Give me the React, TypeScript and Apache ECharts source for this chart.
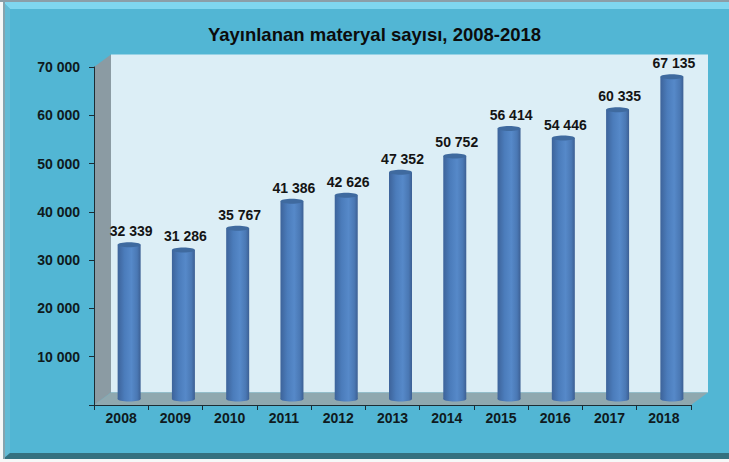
import React, { useEffect, useRef } from "react";
import * as echarts from "echarts";

const years = ["2008","2009","2010","2011","2012","2013","2014","2015","2016","2017","2018"];
const values = [32339,31286,35767,41386,42626,47352,50752,56414,54446,60335,67135];
const valueLabels = ["32 339","31 286","35 767","41 386","42 626","47 352","50 752","56 414","54 446","60 335","67 135"];
const FONT = "'Liberation Sans', Arial, sans-serif";

export default function App() {
  const ref = useRef<HTMLDivElement>(null);
  useEffect(() => {
    document.body.style.margin = "0";
    const chart = echarts.init(ref.current!, null, { renderer: "svg" });
    const G = { l: 94, r: 691, t: 67, b: 405 };
    const D = { x: 17, y: 12.5 };
    const poly = (points: number[][], fill: string, z = 0) => ({ type: "polygon", z, silent: true, shape: { points }, style: { fill } });
    const rect = (x: number, y: number, width: number, height: number, fill: string, z = 0) => ({ type: "rect", z, silent: true, shape: { x, y, width, height }, style: { fill } });
    const option: any = {
      animation: false,
      backgroundColor: "#f6f8f8",
      title: {
        text: "Yayınlanan materyal sayısı, 2008-2018",
        left: 369.5, top: 20, textAlign: "center",
        textStyle: { fontFamily: FONT, fontSize: 18.5, fontWeight: "bold", color: "#0c0c0c" },
      },
      graphic: [
        rect(3, 0, 726, 459, "#52b6d4", -10),
        rect(0, 0, 729, 2, "#8b9ea8", -9),
        poly([[3,2],[729,2],[729,9],[10,9]], "#7fd6ef", -9),
        poly([[3,2],[10,9],[10,453],[3,459]], "#63bbd5", -9),
        rect(3, 2, 2, 457, "#86a4ae", -8),
        poly([[3,459],[10,453],[729,453],[729,459]], "#34707f", -9),
        rect(G.l + D.x, G.t - D.y, G.r - G.l, G.b - G.t, "#dceef6", -5),
        poly([[G.l,G.t],[G.l+D.x,G.t-D.y],[G.l+D.x,G.b-D.y],[G.l,G.b]], "#8b9ba3", -4),
        poly([[G.l,G.b],[G.l+D.x,G.b-D.y],[G.r+D.x,G.b-D.y],[G.r,G.b]], "#8fa8af", -4),
      ],
      grid: { left: G.l, right: 729 - G.r, top: G.t, bottom: 462 - G.b, containLabel: false },
      xAxis: {
        type: "category", data: years, boundaryGap: true,
        axisLine: { lineStyle: { color: "#1c2c34", width: 1 } },
        axisTick: { show: true, alignWithLabel: false, length: 5, lineStyle: { color: "#1c2c34" } },
        axisLabel: { fontFamily: FONT, fontSize: 14, fontWeight: "bold", color: "#0f1a20", margin: 6 },
      },
      yAxis: {
        type: "value", min: 0, max: 70000, interval: 10000,
        splitLine: { show: false },
        axisLine: { show: true, lineStyle: { color: "#1c2c34", width: 1 } },
        axisTick: { show: true, length: 5, lineStyle: { color: "#1c2c34" } },
        axisLabel: {
          fontFamily: FONT, fontSize: 14, fontWeight: "bold", color: "#0f1a20", margin: 14,
          formatter: (v: number) => (v === 0 ? "" : `${Math.floor(v / 1000)} 000`),
        },
      },
      series: [{
        type: "custom",
        clip: false,
        data: values.map((v, i) => [i, v]),
        encode: { x: 0, y: 1 },
        renderItem: (params: any, api: any) => {
          const top = api.coord([api.value(0), api.value(1)]);
          const base = api.coord([api.value(0), 0]);
          const w = 23, rx = w / 2, ry = 2.5, cx = top[0] + 8, ty = top[1] - 4, by = base[1] - 6;
          const grad = new echarts.graphic.LinearGradient(0, 0, 1, 0, [
            { offset: 0, color: "#3d639a" },
            { offset: 0.3, color: "#4b7cbb" },
            { offset: 0.6, color: "#5689c9" },
            { offset: 0.85, color: "#4a78b4" },
            { offset: 1, color: "#3c5f93" },
          ]);
          return {
            type: "group",
            children: [
              { type: "rect", shape: { x: cx - rx, y: ty, width: w, height: by - ty }, style: { fill: grad } },
              { type: "ellipse", shape: { cx, cy: by, rx, ry }, style: { fill: grad } },
              { type: "ellipse", shape: { cx, cy: ty, rx, ry }, style: { fill: "#3f6a9f" } },
              { type: "text", x: cx + 2, y: ty - 6.5, style: {
                  text: valueLabels[params.dataIndex], align: "center", verticalAlign: "bottom",
                  fontFamily: FONT, fontSize: 14, fontWeight: "bold", fill: "#141414" } },
            ],
          };
        },
      }],
    };
    chart.setOption(option);
    return () => chart.dispose();
  }, []);
  return <div ref={ref} style={{ width: 729, height: 462 }} />;
}
